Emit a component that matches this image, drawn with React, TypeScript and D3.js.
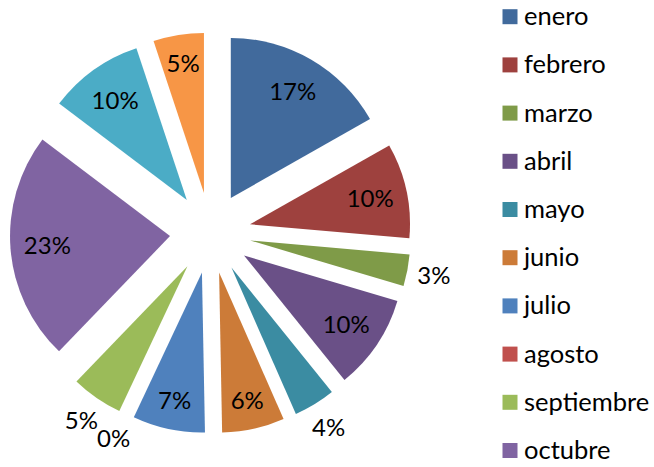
import * as d3 from "d3";

const months = [
  "enero", "febrero", "marzo", "abril", "mayo", "junio",
  "julio", "agosto", "septiembre", "octubre", "noviembre", "diciembre",
];
// share of each month (percent)
const shares = [16.8, 9.6, 3.2, 9.6, 4.2, 6.3, 7.3, 0, 5.2, 23.1, 9.6, 5.1];
const colors = [
  "#416A9C", "#9E413E", "#7F9B48", "#6A5087", "#3B8CA2", "#CC7B38",
  "#4F81BD", "#C0504D", "#9BBB59", "#8064A2", "#4BACC6", "#F79646",
];
// slices whose label Excel put outside
const outsideLabels = ["marzo", "mayo", "agosto", "septiembre"];

const WIDTH = 654;
const HEIGHT = 467;
const CENTER = { x: 210.4, y: 232.9 };
const RADIUS = 160;
const EXPLODE = 40.5;
const FONT = "Lato, 'Open Sans', sans-serif";

type Row = { name: string; value: number; color: string };

export default function App() {
  const rows: Row[] = months.map((m, i) => ({ name: m, value: shares[i], color: colors[i] }));
  const total = d3.sum(rows, (d) => d.value);

  const pie = d3.pie<Row>().sort(null).value((d) => d.value).startAngle(0).endAngle(2 * Math.PI);
  const arcs = pie(rows);
  const arc = d3.arc<d3.PieArcDatum<Row>>().innerRadius(0).outerRadius(RADIUS);

  // legend runs past the bottom edge, like the original: the last rows are dropped
  const legendY = d3.scalePoint<string>().domain(months).range([16.7, 16.7 + 11 * 48.2]);

  const slices = arcs.map((a, i) => {
    const mid = (a.startAngle + a.endAngle) / 2;
    const ox = EXPLODE * Math.sin(mid);
    const oy = -EXPLODE * Math.cos(mid);
    const span = a.endAngle - a.startAngle;
    const outside = outsideLabels.includes(a.data.name);
    const lr = outside ? RADIUS + 27 : span >= (30 * Math.PI) / 180 ? 123 : 131;
    const lx = ox + lr * Math.sin(mid);
    const ly = oy - lr * Math.cos(mid);
    return (
      <g key={i} transform={`translate(${CENTER.x},${CENTER.y})`}>
        {a.data.value > 0 && (
          <path d={arc(a) ?? ""} transform={`translate(${ox},${oy})`} fill={a.data.color} />
        )}
        <text
          x={lx}
          y={ly}
          dy="0.36em"
          textAnchor="middle"
          fontSize={24}
          fontFamily={FONT}
          fill="#000"
        >
          {Math.round((a.data.value / total) * 100)}%
        </text>
      </g>
    );
  });

  const legend = rows
    .filter((d) => (legendY(d.name) ?? 0) + 12 < HEIGHT)
    .map((d, i) => {
      const y = legendY(d.name) ?? 0;
      return (
        <g key={i}>
          <rect x={502.5} y={y - 7.5} width={15} height={15} fill={d.color} />
          <text x={524} y={y} dy="0.33em" fontSize={25.5} fontFamily={FONT} fill="#000">
            {d.name}
          </text>
        </g>
      );
    });

  return (
    <svg
      width={WIDTH}
      height={HEIGHT}
      style={{ position: "absolute", left: 0, top: 0, background: "#fff" }}
    >
      {slices}
      {legend}
    </svg>
  );
}
